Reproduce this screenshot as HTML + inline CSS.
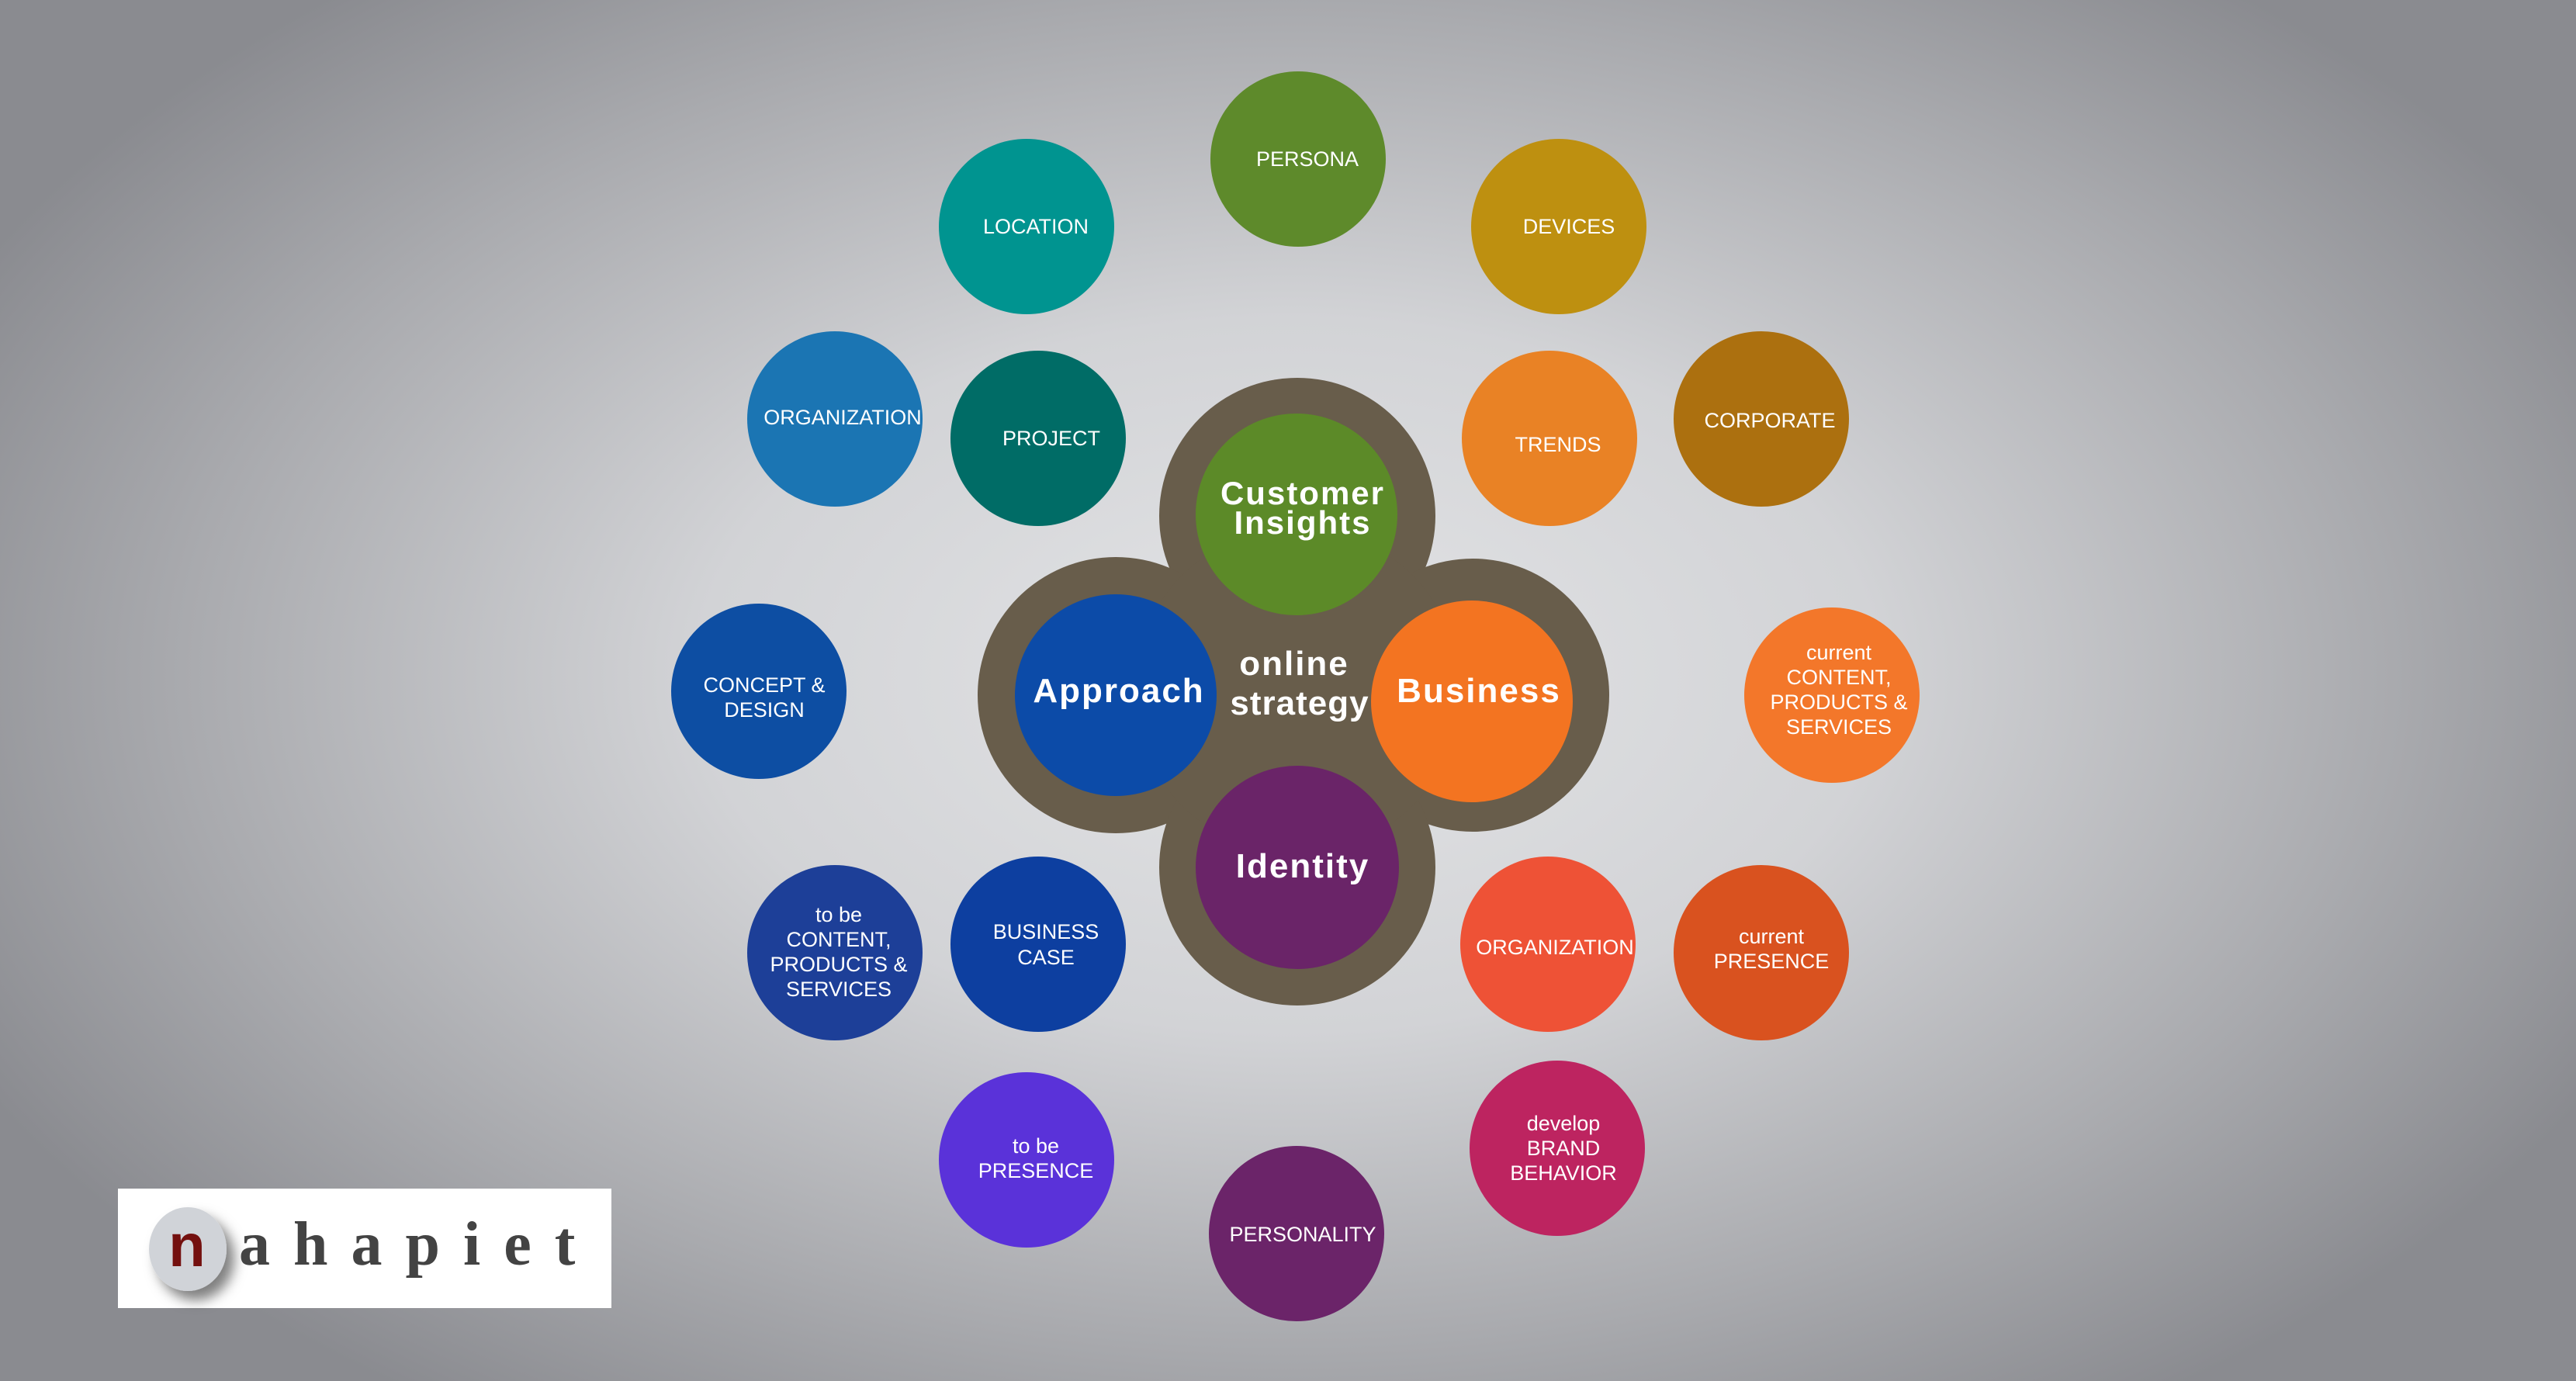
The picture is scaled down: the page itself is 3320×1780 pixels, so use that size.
<!DOCTYPE html>
<html><head><meta charset="utf-8"><style>
html,body{margin:0;padding:0;width:3320px;height:1780px;overflow:hidden}
body{background:radial-gradient(ellipse 1900px 1150px at 1660px 870px,#e3e4e6 0%,#d2d3d6 40%,#a9aaae 75%,#8a8b90 100%)}
svg{position:absolute;left:0;top:0}
</style></head><body>
<svg width="3320" height="1780" viewBox="0 0 3320 1780" font-family="Liberation Sans, sans-serif">
<defs><filter id="sh" x="-30%" y="-30%" width="170%" height="170%"><feDropShadow dx="10" dy="12" stdDeviation="8" flood-color="#000" flood-opacity="0.5"/></filter></defs>
<g fill="#685d4b">
<circle cx="1672" cy="665" r="178"/>
<circle cx="1438" cy="896" r="178"/>
<circle cx="1898" cy="896" r="176"/>
<circle cx="1672" cy="1118" r="178"/>
<circle cx="1672" cy="890" r="210"/>
</g>
<circle cx="1671" cy="663" r="130" fill="#5c8a28"/>
<circle cx="1438" cy="896" r="130" fill="#0c4ba8"/>
<circle cx="1897" cy="904" r="130" fill="#f37421"/>
<circle cx="1672" cy="1118" r="131" fill="#6a2468"/>
<g fill="#fff" font-weight="bold" text-anchor="middle" letter-spacing="2">
<text x="1679" y="650" font-size="42">Customer</text>
<text x="1679" y="688" font-size="42">Insights</text>
<text x="1442" y="905" font-size="44">Approach</text>
<text x="1906" y="905" font-size="44">Business</text>
<text x="1679" y="1131" font-size="44">Identity</text>
<text x="1668" y="870" font-size="44" letter-spacing="2">online</text>
<text x="1675" y="921" font-size="44" letter-spacing="1">strategy</text>
</g>
<g font-size="27" fill="#fff" text-anchor="middle">
<circle cx="1673" cy="205" r="113" fill="#5e8a2b"/><text x="1685" y="214">PERSONA</text>
<circle cx="1323" cy="292" r="113" fill="#009490"/><text x="1335" y="301">LOCATION</text>
<circle cx="2009" cy="292" r="113" fill="#be9010"/><text x="2022" y="301">DEVICES</text>
<circle cx="1076" cy="540" r="113" fill="#1b75b3"/><text x="1086" y="547">ORGANIZATION</text>
<circle cx="1338" cy="565" r="113" fill="#006c66"/><text x="1355" y="574">PROJECT</text>
<circle cx="1997" cy="565" r="113" fill="#e98225"/><text x="2008" y="582">TRENDS</text>
<circle cx="2270" cy="540" r="113" fill="#ac700f"/><text x="2281" y="551">CORPORATE</text>
<circle cx="978" cy="891" r="113" fill="#0d4ea3"/><text x="985" y="892">CONCEPT &amp;</text><text x="985" y="924">DESIGN</text>
<circle cx="2361" cy="896" r="113" fill="#f3772a"/><text x="2370" y="850">current</text><text x="2370" y="882">CONTENT,</text><text x="2370" y="914">PRODUCTS &amp;</text><text x="2370" y="946">SERVICES</text>
<circle cx="1076" cy="1228" r="113" fill="#1d3f98"/><text x="1081" y="1188">to be</text><text x="1081" y="1220">CONTENT,</text><text x="1081" y="1252">PRODUCTS &amp;</text><text x="1081" y="1284">SERVICES</text>
<circle cx="1338" cy="1217" r="113" fill="#0d3fa0"/><text x="1348" y="1210">BUSINESS</text><text x="1348" y="1243">CASE</text>
<circle cx="1995" cy="1217" r="113" fill="#ee5236"/><text x="2004" y="1230">ORGANIZATION</text>
<circle cx="2270" cy="1228" r="113" fill="#d9521f"/><text x="2283" y="1216">current</text><text x="2283" y="1248">PRESENCE</text>
<circle cx="1323" cy="1495" r="113" fill="#5a32d9"/><text x="1335" y="1486">to be</text><text x="1335" y="1518">PRESENCE</text>
<circle cx="1671" cy="1590" r="113" fill="#6b2469"/><text x="1679" y="1600">PERSONALITY</text>
<circle cx="2007" cy="1480" r="113" fill="#bd2460"/><text x="2015" y="1457">develop</text><text x="2015" y="1489">BRAND</text><text x="2015" y="1521">BEHAVIOR</text>
</g>
<rect x="152" y="1532" width="636" height="154" fill="#fff"/>
<ellipse cx="242" cy="1610" rx="50" ry="54" fill="#d0d3d8" filter="url(#sh)"/>
<text x="241" y="1632" font-family="Liberation Sans, sans-serif" font-weight="bold" font-size="78" fill="#74100f" text-anchor="middle">n</text>
<text x="308" y="1630" font-family="Liberation Serif, serif" font-weight="bold" font-size="80" fill="#434343" letter-spacing="30">ahapiet</text>
</svg>
</body></html>
